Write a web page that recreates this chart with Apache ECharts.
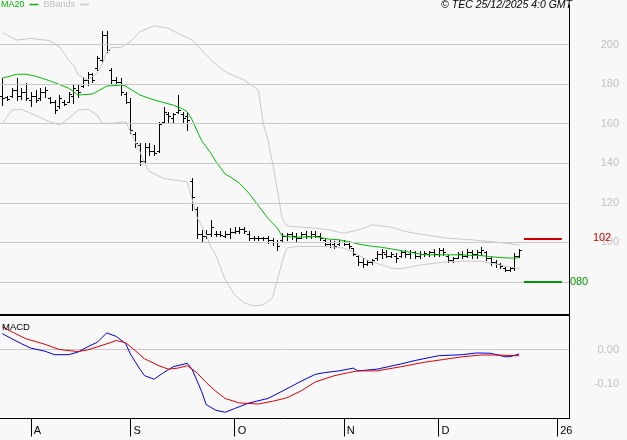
<!DOCTYPE html>
<html><head><meta charset="utf-8">
<script src="https://cdn.jsdelivr.net/npm/echarts@6/dist/echarts.min.js"></script>
<style>html,body{margin:0;padding:0;background:#f8f8f8}#c{width:627px;height:440px}</style>
</head><body><div id="c"></div>
<script>
// ---- data ----
const openP  = [174,173.5,174,177,174,176,172,174,173,176,173,171,169,171,171,174,177,179,182,185,188,192,205,187,182,181,175,171,155,149,141,148,146,146,161,165,163,166,165,164,131,117,104,103,104,104,104,103,104,105,106,107,104,102,102,102,102,101,100,101,103,104,103,102,104,103,104,103,101,99,99,99,100,99,97,93,90,89,90,92,94,94,93,93,93,95,94,95,93,94,94,95,94,96,93,91,92,94,93,95,94,95,95,92,90,89,87,86,87,93];
const highP  = [183,174,178,183,178,180.5,176,177,178,178.7,173.6,172,174.5,172,176,179.5,179.5,183.7,186.3,185.6,194,207,207,188,183.7,183,176,173,156,150.2,150.2,150.2,149,161,168.6,166,165.4,174.5,166,166,132.4,118,106.3,106.3,111.4,105.5,105.5,106,107.3,108,108,108,105.5,103,103,102.5,103,102,101.3,104.6,104.6,105.1,104.6,105,105.6,105.6,106,104.6,102.1,101.3,100.7,101.3,101,99.6,97,93.7,92,91.2,91.5,95.4,96.6,96,95.2,94.5,96.2,96.2,96.2,95.4,95.4,95.4,95.4,96.6,97,97,93.7,92.8,95,95.4,96.6,96,96.2,97.9,95.4,92.8,91.2,89.5,87.8,87.8,94.5,96.6];
const lowP   = [169.5,172,173.5,172,172.5,172,169,171,172,173.6,170.4,165.4,168,169.6,171,170.4,173.6,178.7,179.5,181,187,191,196,180.5,179.5,174.5,170.4,155.3,148.4,139,140.8,144.2,144.2,145.9,160.2,161,161,165.4,161,156.8,116.4,102.1,100.4,102,103,103,103,102.5,102.3,104.6,104.6,104.6,101.3,101.3,101.3,101.3,99.6,98.9,96.2,100.4,101.3,101.8,100.4,102,102,102,102.5,101.3,98.7,97.9,97,98.7,98.7,97,93.7,88.6,87.8,88.6,89,91.2,92,92.5,92.5,90.3,92.8,92.8,92,92,92,93,93,93,93,93.7,90.3,90.3,92,92,92.8,92.3,92,93.7,91.2,88.6,87.8,87,85.3,85.3,86.1,92.8];
const closeP = [173,172.5,177,174,176,173,174,172,176,177,171,167,173,170,175,178,176,182,185,182,193,205,197,182,181,176,171,157,150,141,148,146,145,160,166,164,165,167,163,162,123,104,103,104,108,104,103.5,104,105,106,107,106,102,102,102,102,101,100,98,103,104,103,102,104,103,104,103,102,99,100,98,100,99,98,94,90,89,90,91,94,95,93,94,92,95,94,95,93,94,94.5,95,94,96,95,91,92,94,93,95,94,95,96,92,90,89,88,86,87,93,96];

const ma20 = [[0,183],[3,185],[5,185],[7,184],[10,181.7],[14,177.9],[16,174.5],[19,175],[22,179],[25,179.5],[26,179],[29,174.5],[32,172],[36,169.4],[38,167.5],[39,166],[40,162],[42,151.5],[44,145],[45,141],[47,134.5],[48,133.2],[50,129.9],[52,124.8],[54,118.5],[56,112.2],[58,107.2],[59,103.3],[62,102.6],[66,102.9],[69,101.6],[71,101.3],[73,100.4],[75,99.2],[78,98],[80,97.5],[82,96.7],[86,95],[89,93.7],[96,93.7],[101,93.3],[103,92.8],[105,92.3],[108,92],[109,92.3]];
const bbUpper = [[0,206],[3,202.3],[6,203.1],[10,202],[12,198.9],[13,195.6],[14,192],[15,189.6],[16,184.6],[18,182.1],[20,185.5],[21,190],[22,196],[23,198.5],[25,198.5],[27,201.4],[29,206.5],[32,209.5],[35,208.2],[37,205.7],[40,202.3],[44,192.2],[46,188],[48,185],[51,182.1],[54,177],[55,160.2],[56,151.8],[57,140],[58,126.5],[59,112],[60,108.5],[61,108],[66,107.2],[69,106.3],[72,104.6],[75,106.3],[78,108.8],[82,107.7],[85,105.5],[89,103.8],[94,102.1],[99,101.3],[105,99.9],[109,98.7]];
const bbLower = [[0,160.2],[1,163.5],[2,166.9],[4,167.2],[6,165.3],[9,161.9],[12,159.3],[14,162.7],[16,166.9],[18,167.3],[20,164.4],[21,160.2],[23,160.2],[26,161],[27,156],[29,145.9],[30,140],[31,135.8],[34,132.4],[36,131.6],[39,130.7],[40,122],[41,113],[43,103.8],[44,97.5],[45,93.7],[47,81.1],[49,73.5],[51,69.4],[53,67.9],[55,68.4],[57,72],[58,81.1],[59,90.2],[60,97.1],[62,97.9],[69,97.9],[72,97.1],[74,95],[77,91],[80,88.6],[82,87],[84,86.6],[88,88.5],[93,90],[97,90.5],[101,90.5],[103,89.5],[106,88],[109,86.8]];
const macdLine = [[0,0.046],[2,0.031],[4,0.017],[6,0.004],[9,-0.005],[11,-0.015],[14,-0.015],[16,-0.007],[18,0.008],[20,0.021],[22,0.048],[24,0.038],[26,0.017],[27,-0.013],[29,-0.057],[30,-0.076],[32,-0.086],[34,-0.067],[36,-0.05],[39,-0.04],[40,-0.057],[42,-0.121],[43,-0.16],[45,-0.176],[47,-0.182],[49,-0.171],[52,-0.155],[56,-0.142],[59,-0.121],[63,-0.092],[66,-0.072],[68,-0.067],[71,-0.062],[74,-0.054],[75,-0.062],[79,-0.057],[84,-0.042],[87,-0.032],[92,-0.018],[97,-0.015],[100,-0.01],[103,-0.011],[106,-0.021],[107,-0.021],[109,-0.013]];
const signalLine = [[0,0.066],[2,0.051],[5,0.031],[9,0.015],[12,0],[16,-0.006],[18,-0.001],[21,0.012],[23,0.021],[24,0.026],[26,0.02],[28,-0.003],[30,-0.027],[33,-0.047],[35,-0.057],[37,-0.054],[39,-0.047],[41,-0.067],[43,-0.096],[45,-0.121],[47,-0.142],[50,-0.155],[54,-0.158],[57,-0.15],[60,-0.14],[63,-0.12],[66,-0.094],[70,-0.076],[73,-0.067],[75,-0.062],[79,-0.062],[84,-0.05],[89,-0.037],[93,-0.029],[97,-0.021],[101,-0.016],[105,-0.016],[108,-0.018],[109,-0.018]];

const tickIndex = [6,27,49,72,92,117];
const tickText  = ['A','S','O','N','D','26'];
const yGrid   = [80,100,120,140,160,180,200];
const yLabels = [100,120,140,160,180,200];
const macdGrid = [0];
const levels = [102, 80];
const levelText = ['102','080'];
const levelSpan = [110, 118];

// trading-day categories
const cats = [];
(function(){ const d = new Date(Date.UTC(2025,6,24));
  while (cats.length < 120) { const w = d.getUTCDay(); if (w !== 0 && w !== 6) cats.push(d.toISOString().slice(0,10)); d.setUTCDate(d.getUTCDate()+1); } })();

const ohlc = openP.map((o,i) => [i, o, closeP[i], lowP[i], highP[i]]);

const FONT = 'Liberation Sans, Arial, sans-serif';
const GREEN = '#00bb00', GREY = '#c8c8c8';
const levelColor = ['#cc0000', '#009900'];
const levelDist = [31, 8];

function renderOHLC(params, api) {
  const i = api.value(0);
  const pO = api.coord([i, api.value(1)]);
  const pC = api.coord([i, api.value(2)]);
  const pL = api.coord([i, api.value(3)]);
  const pH = api.coord([i, api.value(4)]);
  const x = Math.round(pH[0]) + 0.5;
  const st = { stroke: '#000', lineWidth: 1 };
  const yo = Math.round(pO[1]) + 0.5, yc = Math.round(pC[1]) + 0.5;
  return { type: 'group', children: [
    { type: 'line', shape: { x1: x, y1: Math.round(pH[1]), x2: x, y2: Math.round(pL[1]) + 1 }, style: st },
    { type: 'line', shape: { x1: x - 2.5, y1: yo, x2: x, y2: yo }, style: st },
    { type: 'line', shape: { x1: x, y1: yc, x2: x + 2.5, y2: yc }, style: st }
  ]};
}

const chart = echarts.init(document.getElementById('c'), null, { renderer: 'canvas' });
chart.setOption({
  animation: false,
  backgroundColor: '#f8f8f8',
  textStyle: { fontFamily: FONT },
  title: [
    { text: '© TEC 25/12/2025 4:0 GMT', right: 55, top: 0, padding: 0,
      textStyle: { fontSize: 10.5, fontStyle: 'italic', fontWeight: 'normal', color: '#000', fontFamily: FONT } },
    { text: 'MACD', left: 2, top: 322, padding: 0,
      textStyle: { fontSize: 9.5, fontWeight: 'normal', color: '#000', fontFamily: FONT } }
  ],
  legend: {
    left: 1, top: 0, padding: 0, itemGap: 5, align: 'right', icon: 'rect', itemWidth: 9, itemHeight: 1.5,
    textStyle: { fontSize: 9, fontFamily: FONT },
    data: [ { name: 'MA20', textStyle: { color: GREEN } }, { name: 'BBands', textStyle: { color: '#c0c0c0' } } ],
    selectedMode: false
  },
  grid: [
    { left: 0, right: 58, top: 5, height: 316.5 },
    { left: 0, right: 58, top: 315, height: 103.5 }
  ],
  xAxis: [
    { type: 'category', gridIndex: 0, data: cats, show: false, boundaryGap: true, axisLine: { onZero: false } },
    { type: 'category', gridIndex: 1, data: cats, boundaryGap: true, position: 'bottom',
      axisLine: { onZero: false, lineStyle: { color: '#000', width: 1 } },
      axisTick: { show: true, alignWithLabel: true, length: 18, interval: (idx) => tickIndex.includes(idx), lineStyle: { color: '#000' } },
      axisLabel: { interval: (idx) => tickIndex.includes(idx), formatter: (v, idx) => { const k = tickIndex.indexOf(idx); return k >= 0 ? tickText[k] : ''; },
        align: 'left', padding: [0,0,0,3], margin: 7, color: '#000', fontSize: 11, fontFamily: FONT },
      splitLine: { show: false } },
    { type: 'category', gridIndex: 1, data: cats, position: 'top', boundaryGap: true,
      axisLine: { onZero: false, lineStyle: { color: '#000', width: 2 } }, axisTick: { show: false }, axisLabel: { show: false }, splitLine: { show: false } }
  ],
  yAxis: [
    { type: 'value', gridIndex: 0, position: 'right', min: 60, max: 220, interval: 20,
      axisLine: { show: true, onZero: false, lineStyle: { color: '#000', width: 1 } }, axisTick: { show: false }, splitLine: { show: false },
      axisLabel: { formatter: (v) => yLabels.includes(v) ? String(v) : '', color: '#c0c0c0', fontSize: 11, align: 'right', margin: 50, padding: [8,0,0,0], fontFamily: FONT } },
    { type: 'value', gridIndex: 1, position: 'right', min: -0.2, max: 0.1, interval: 0.1,
      axisLine: { show: true, onZero: false, lineStyle: { color: '#000', width: 1 } }, axisTick: { show: false }, splitLine: { show: false },
      axisLabel: { formatter: (v) => Math.abs(v) < 1e-9 ? '0.00' : (Math.abs(v + 0.1) < 1e-9 ? '-0.10' : ''), color: '#c0c0c0', fontSize: 11, align: 'right', margin: 50, padding: [8,0,0,0], fontFamily: FONT } }
  ],
  series: [
    { name: 'BBands', type: 'line', xAxisIndex: 0, yAxisIndex: 0, data: bbUpper, showSymbol: false, symbol: 'none',
      lineStyle: { color: GREY, width: 1 }, itemStyle: { color: GREY },
      markLine: { silent: true, symbol: ['none','none'], label: { show: false }, lineStyle: { color: GREY, width: 1, type: 'solid' },
        data: yGrid.map(v => ({ yAxis: v })) } },
    { name: 'BBands', type: 'line', xAxisIndex: 0, yAxisIndex: 0, data: bbLower, showSymbol: false, symbol: 'none',
      lineStyle: { color: GREY, width: 1 }, itemStyle: { color: GREY } },
    { name: 'MA20', type: 'line', xAxisIndex: 0, yAxisIndex: 0, data: ma20, showSymbol: false, symbol: 'none',
      lineStyle: { color: GREEN, width: 1 }, itemStyle: { color: GREEN },
      markLine: { silent: true, symbol: ['none','none'],
        data: levels.map((v, k) => [
          { coord: [levelSpan[0], v], lineStyle: { color: levelColor[k], width: 2, type: 'solid' },
            label: { show: true, position: 'end', formatter: levelText[k], color: levelColor[k], fontSize: 11, distance: levelDist[k], fontFamily: FONT } },
          { coord: [levelSpan[1], v] }
        ]) } },
    { name: 'Price', type: 'custom', xAxisIndex: 0, yAxisIndex: 0, data: ohlc, renderItem: renderOHLC,
      encode: { x: 0, y: [1,2,3,4] }, z: 3 },
    { name: 'MACD', type: 'line', xAxisIndex: 1, yAxisIndex: 1, data: macdLine, showSymbol: false, symbol: 'none',
      lineStyle: { color: '#0000dd', width: 1 }, itemStyle: { color: '#0000dd' }, z: 3,
      markLine: { silent: true, symbol: ['none','none'], label: { show: false }, lineStyle: { color: GREY, width: 1, type: 'solid' },
        data: macdGrid.map(v => ({ yAxis: v })), z: 1 } },
    { name: 'Signal', type: 'line', xAxisIndex: 1, yAxisIndex: 1, data: signalLine, showSymbol: false, symbol: 'none',
      lineStyle: { color: '#dd0000', width: 1 }, itemStyle: { color: '#dd0000' }, z: 3 }
  ]
});
</script>
</body></html>
